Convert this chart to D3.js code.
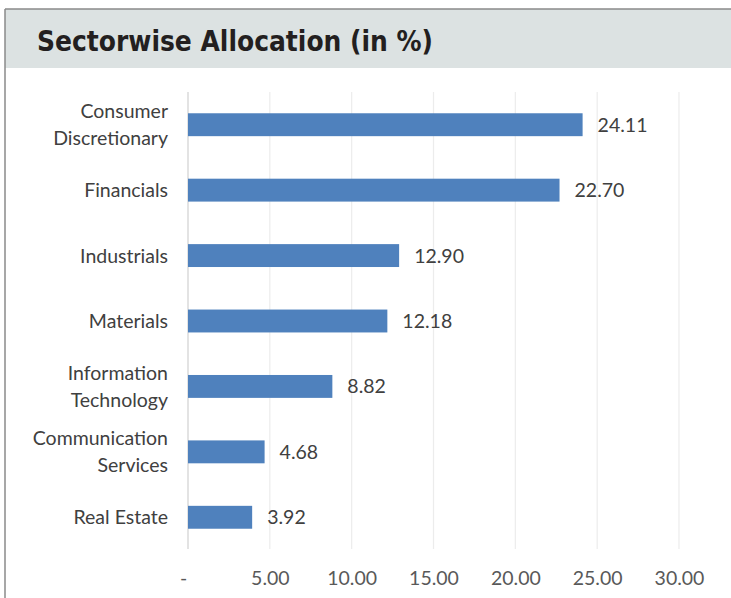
<!DOCTYPE html>
<html>
<head>
<meta charset="utf-8">
<script src="https://cdn.jsdelivr.net/npm/d3@7"></script>
<style>
  body { margin: 0; background: #fff; }
  svg { display: block; }
</style>
</head>
<body>
<svg id="chart" width="731" height="598"></svg>
<script>
const categories = ["Consumer Discretionary", "Financials", "Industrials", "Materials",
  "Information Technology", "Communication Services", "Real Estate"];
const labelLines = [["Consumer", "Discretionary"], ["Financials"], ["Industrials"], ["Materials"],
  ["Information", "Technology"], ["Communication", "Services"], ["Real Estate"]];
const values = [24.11, 22.70, 12.90, 12.18, 8.82, 4.68, 3.92];
const tickValues = [0, 5, 10, 15, 20, 25, 30];
const tickLabels = ["-", "5.00", "10.00", "15.00", "20.00", "25.00", "30.00"];

const svg = d3.select("#chart");
const W = 731, H = 598;
const FS = 19.5;

// frame + header band
svg.append("rect").attr("x", 5).attr("y", 9).attr("width", W).attr("height", 59)
  .attr("fill", "#dce2e2");
svg.append("line").attr("x1", 5).attr("x2", W).attr("y1", 9).attr("y2", 9)
  .attr("stroke", "#8a8a8a").attr("stroke-width", 1.5);
svg.append("line").attr("x1", 5).attr("x2", 5).attr("y1", 9).attr("y2", H)
  .attr("stroke", "#8a8a8a").attr("stroke-width", 1.5);
svg.append("text").attr("x", 37).attr("y", 50.5)
  .attr("font-family", "DejaVu Sans Condensed, DejaVu Sans")
  .attr("font-stretch", "condensed")
  .attr("font-weight", "bold").attr("font-size", 27.8).attr("fill", "#231f20")
  .text("Sectorwise Allocation (in %)");

const x = d3.scaleLinear().domain([0, 30]).range([188, 679]);
const y = d3.scaleBand().domain(categories).range([92, 550]).paddingInner(0.65).paddingOuter(0.325);

// gridlines
svg.append("g").selectAll("line").data(tickValues).join("line")
  .attr("x1", d => x(d)).attr("x2", d => x(d))
  .attr("y1", 92).attr("y2", 549)
  .attr("stroke", d => d === 0 ? "#d0d0d0" : "#ececec").attr("stroke-width", 1.2);

// x axis labels
const xAxis = d3.axisBottom(x).tickValues(tickValues).tickSize(0)
  .tickFormat((d, i) => tickLabels[i]);
const gx = svg.append("g").attr("transform", "translate(0,568)").call(xAxis);
gx.select(".domain").remove();
gx.selectAll("text").attr("font-family", "Lato, sans-serif").attr("font-size", FS)
  .attr("fill", "#595959").attr("dx", (d) => d === 0 ? -5 : 0);

// bars
svg.append("g").selectAll("rect").data(values).join("rect")
  .attr("x", x(0)).attr("y", (d, i) => y(categories[i]))
  .attr("width", d => x(d) - x(0)).attr("height", y.bandwidth())
  .attr("fill", "#4f81bd");

// value labels
svg.append("g").selectAll("text").data(values).join("text")
  .attr("x", d => x(d) + 15).attr("y", (d, i) => y(categories[i]) + y.bandwidth() / 2 + 7)
  .attr("font-family", "Lato, sans-serif").attr("font-size", FS).attr("fill", "#404040")
  .text(d => d.toFixed(2));

// category labels
const cat = svg.append("g").selectAll("text").data(labelLines).join("text")
  .attr("text-anchor", "end")
  .attr("font-family", "Lato, sans-serif").attr("font-size", FS).attr("fill", "#404040")
  .attr("y", (d, i) => y(categories[i]) + y.bandwidth() / 2 + 7 - (d.length - 1) * 13.5);
cat.selectAll("tspan").data(d => d).join("tspan")
  .attr("x", 168).attr("dy", (d, i) => i === 0 ? 0 : 27)
  .text(d => d);
</script>
</body>
</html>
